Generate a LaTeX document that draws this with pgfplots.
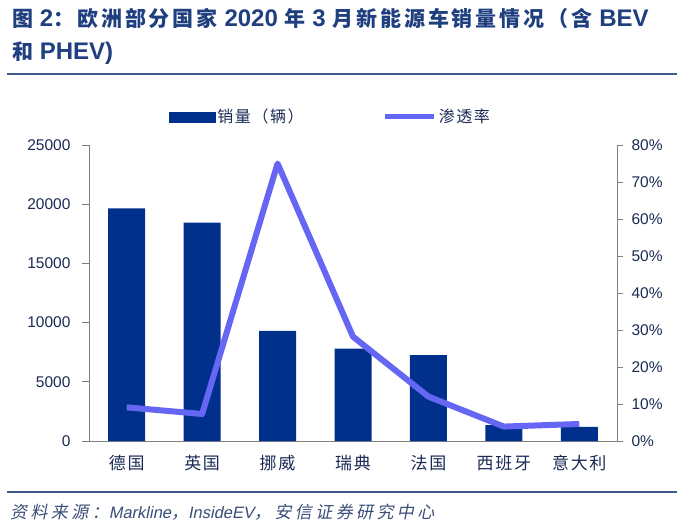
\documentclass[border=0pt]{standalone}
\usepackage{fontspec}
\usepackage{pgfplots}
\pgfplotsset{compat=1.18}
\setmainfont{Liberation Sans}
\newfontfamily\cjk{Noto Sans CJK SC}
\newfontfamily\cjkt[LetterSpace=14]{Noto Sans CJK SC}
\newfontfamily\cjkl[LetterSpace=10]{Noto Sans CJK SC}
\newfontfamily\cjki[FakeSlant=0.2,LetterSpace=20]{Noto Sans CJK SC}
\newfontfamily\latini[FakeSlant=0.2]{Liberation Sans}
\definecolor{barblue}{HTML}{00308C}
\definecolor{lineblue}{HTML}{6666F5}
\definecolor{titleblue}{HTML}{1F3F7F}
\definecolor{txt}{HTML}{1C2B55}
\definecolor{rulec}{HTML}{3E5A8C}
\definecolor{axgray}{HTML}{808080}
\definecolor{srcc}{HTML}{3A4E78}
\begin{document}
\begin{tikzpicture}[x=1pt,y=1pt]
\useasboundingbox[fill=white] (0,0) rectangle (700,524);
% title
\node[anchor=base west, text=titleblue, inner sep=0, font=\fontsize{24}{24}\selectfont\bfseries] at (12,497)
 {{\fontsize{21}{21}\cjkt\bfseries 图}\ 2{\fontsize{21}{21}\cjkt\bfseries ：欧洲部分国家}\ 2020\ {\fontsize{21}{21}\cjkt\bfseries 年}\ 3\ {\fontsize{21}{21}\cjkt\bfseries 月新能源车销量情况（含}\ BEV};
\node[anchor=base west, text=titleblue, inner sep=0, font=\fontsize{24}{24}\selectfont\bfseries] at (12,464)
 {{\fontsize{21}{21}\cjkt\bfseries 和}\ PHEV)};
\draw[rulec, line width=1.2pt] (7,450) -- (677,450);
\draw[rulec, line width=1.2pt] (7,32) -- (677,32);
\node[anchor=base west, text=srcc, inner sep=0, font=\fontsize{17}{17}\selectfont] at (10,6)
 {{\cjki 资料来源：}{\fontsize{16.5}{16.5}\latini Markline}{\cjki ，}{\fontsize{16.5}{16.5}\latini InsideEV}{\cjki ，安信证券研究中心}};

\begin{axis}[at={(89pt,83pt)}, anchor=south west, scale only axis,
  width=528pt, height=296pt,
  xmin=-0.5, xmax=6.5, ymin=0, ymax=25000,
  axis x line*=bottom, axis y line*=left,
  axis line style={axgray, line width=0.8pt, -},
  ytick={0,5000,10000,15000,20000,25000},
  scaled y ticks=false,
  xtick={0,1,2,3,4,5,6},
  xticklabels={德国,英国,挪威,瑞典,法国,西班牙,意大利},
  x tick style={draw=none},
  extra x ticks={0.5,1.5,2.5,3.5,4.5,5.5},
  extra x tick labels={},
  extra x tick style={tick align=inside, major tick length=5pt, tick style={draw=axgray, line width=0.8pt}},
  y tick style={draw=axgray, line width=0.8pt},
  tick align=outside, major tick length=7pt,
  /pgf/number format/1000 sep={},
  /pgf/number format/assume math mode=true,
  yticklabel style={font=\fontsize{15.5}{15.5}\selectfont, text=txt, xshift=-8pt},
  xticklabel style={font=\cjkl\fontsize{17}{17}\selectfont, text=txt, yshift=-4pt},
]
\addplot[ybar, bar width=37pt, fill=barblue, draw=none]
  coordinates {(0,19650) (1,18450) (2,9300) (3,7800) (4,7250) (5,1350) (6,1200)};
\end{axis}

\begin{axis}[at={(89pt,83pt)}, anchor=south west, scale only axis,
  width=528pt, height=296pt,
  xmin=-0.5, xmax=6.5, ymin=0, ymax=80,
  axis x line=none, axis y line*=right,
  axis line style={axgray, line width=0.8pt, -},
  ytick={0,10,20,30,40,50,60,70,80},
  yticklabel={\pgfmathprintnumber{\tick}\%},
  y tick style={draw=axgray, line width=0.8pt},
  tick align=outside, major tick length=6pt,
  /pgf/number format/assume math mode=true,
  yticklabel style={font=\fontsize{15.5}{15.5}\selectfont, text=txt, xshift=5pt},
  legend columns=2,
  legend style={at={(0.4573,1.095)}, anchor=center, draw=none, fill=none,
    font=\cjkl\fontsize{16}{16}\selectfont, text=txt,
    /tikz/every even column/.append style={column sep=77pt}},
]
\addlegendimage{legend image code/.code={\fill[barblue] (0pt,-5pt) rectangle (46pt,5pt);}}
\addlegendentry{销量（辆）}
\addplot[lineblue, line width=6pt, line join=round, mark=none,
  legend image code/.code={\draw[lineblue, line width=5pt] (0pt,0pt) -- (49pt,0pt);}]
  coordinates {(0,9.1) (1,7.3) (2,75.0) (3,28.2) (4,12.0) (5,3.9) (6,4.6)};
\addlegendentry{渗透率}
\end{axis}
\end{tikzpicture}
\end{document}
